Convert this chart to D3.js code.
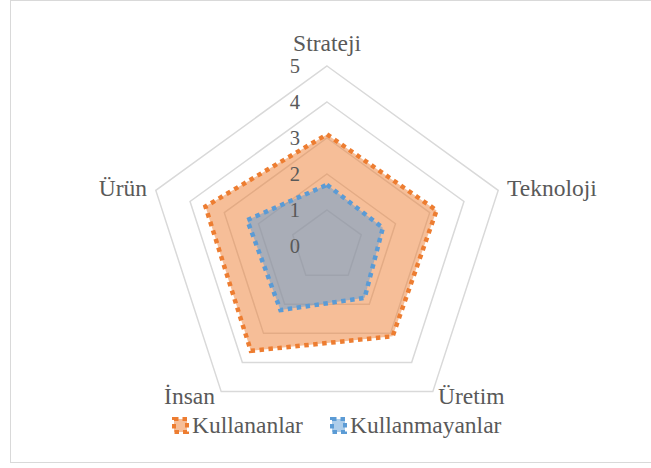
<!DOCTYPE html>
<html><head><meta charset="utf-8">
<script src="https://cdn.jsdelivr.net/npm/d3@7"></script>
<style>body{margin:0;background:#fff}svg{display:block}</style>
</head><body>
<script>
const categories = ["Strateji","Teknoloji","Üretim","İnsan","Ürün"];
const kullananlar = [3.1, 3.2, 3.1, 3.6, 3.55];
const kullanmayanlar = [1.7, 1.63, 1.78, 2.2, 2.33];
const seriesNames = ["Kullananlar","Kullanmayanlar"];
const ticks = [0,1,2,3,4,5];
const colors = ["#ED7D31","#5B9BD5"];

const W=651,H=468, cx=327, cy=246, R=180;
const FONT="'Liberation Serif', 'Times New Roman', 'DejaVu Serif', serif";
const FS=23.5, TFS=20.5;
const svg=d3.select("body").append("svg").attr("width",W).attr("height",H)
  .attr("font-family",FONT);
svg.append("rect").attr("x",10.5).attr("y",0.5).attr("width",641).attr("height",462)
  .attr("fill","#fff").attr("stroke","#d9d9d9").attr("stroke-width",1);

const r=d3.scaleLinear().domain([0,5]).range([0,R]);
const ang=d3.scalePoint().domain(categories).range([0,2*Math.PI*4/5]);
const pt=(c,v)=>[cx+r(v)*Math.sin(ang(c)), cy-r(v)*Math.cos(ang(c))];
const line=d3.line().curve(d3.curveLinearClosed);

// grid
ticks.filter(t=>t>0).forEach(t=>{
  svg.append("path").attr("d",line(categories.map(c=>pt(c,t))))
    .attr("fill","none").attr("stroke","#d9d9d9").attr("stroke-width",1.5);
});

// series
[kullananlar,kullanmayanlar].forEach((vals,i)=>{
  svg.append("path").attr("d",line(categories.map((c,j)=>pt(c,vals[j]))))
    .attr("fill",colors[i]).attr("fill-opacity",0.5)
    .attr("stroke",colors[i]).attr("stroke-width",4.5).attr("stroke-dasharray","4.5 4.5");
});

// tick labels
ticks.forEach(t=>{
  svg.append("text").attr("x",cx-27).attr("y",cy-r(t)).attr("dy","0.34em")
    .attr("text-anchor","end").attr("font-size",TFS).attr("fill","#595959")
    .style("font-family",FONT).text(t);
});

// category labels
const labPos={"Strateji":[cx,51,"middle"],"Teknoloji":[507,196,"start"],"Üretim":[438,404,"start"],"İnsan":[215,404,"end"],"Ürün":[147,196,"end"]};
categories.forEach(c=>{
  const p=labPos[c];
  svg.append("text").attr("x",p[0]).attr("y",p[1]).attr("text-anchor",p[2])
    .attr("font-size",FS).attr("fill","#595959").style("font-family",FONT).text(c);
});

// legend
const legX=[172,330];
seriesNames.forEach((n,i)=>{
  const g=svg.append("g").attr("transform",`translate(${legX[i]},417)`);
  g.append("rect").attr("x",2).attr("y",2).attr("width",13).attr("height",13)
    .attr("fill",colors[i]).attr("fill-opacity",0.5)
    .attr("stroke",colors[i]).attr("stroke-width",4).attr("stroke-dasharray","4.5 4");
  g.append("text").attr("x",20).attr("y",16).attr("font-size",FS).attr("fill","#595959")
    .style("font-family",FONT).text(n);
});
</script>
</body></html>
